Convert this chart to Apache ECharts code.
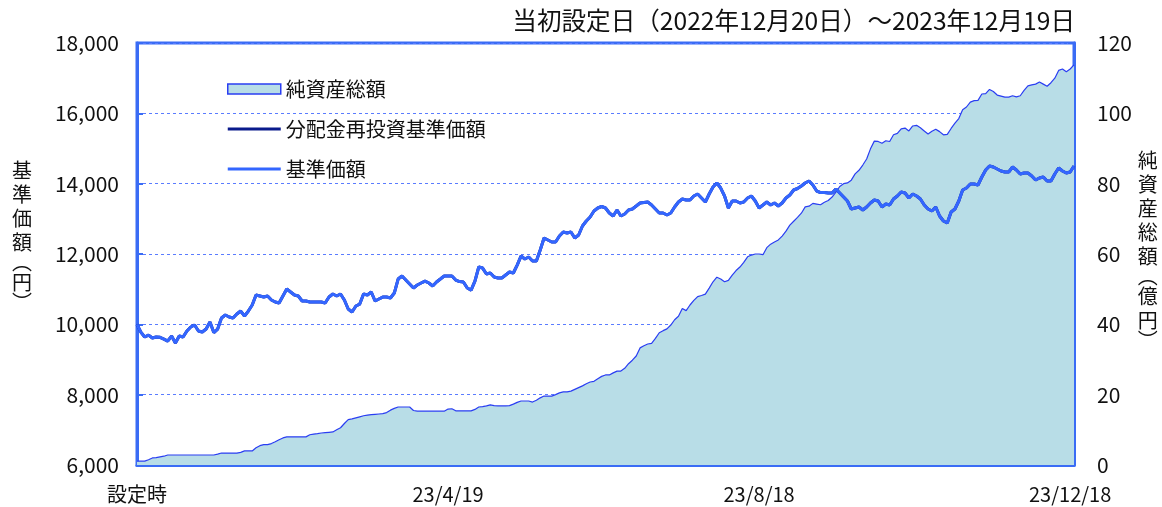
<!DOCTYPE html>
<html>
<head>
<meta charset="utf-8">
<script src="https://cdn.jsdelivr.net/npm/echarts@6/dist/echarts.min.js"></script>
<style>
html,body{margin:0;padding:0;background:#fff;}
#c{width:1162px;height:507px;}
</style>
</head>
<body>
<div id="c"></div>
<script>
// trading-day index 0..244 (2022/12/20 .. 2023/12/19)
const xTickLabels = {0: '設定時', 81: '23/4/19', 162: '23/8/18', 243: '23/12/18'};

// 基準価額 (円)
const nav = [
10000,9780,9640,9695,9610,9640,9630,9580,9525,9667,
9468,9667,9640,9810,9923,9980,9810,9781,9866,10065,
9765,9866,10179,10265,10208,10179,10293,10378,10236,10378,
10550,10833,10805,10776,10805,10691,10634,10606,10805,11004,
10919,10833,10805,10663,10663,10634,10634,10634,10634,10606,
10776,10862,10805,10862,10691,10435,10350,10521,10577,10862,
10833,10919,10663,10720,10776,10776,10748,10890,11288,11374,
11260,11147,11032,11118,11175,11231,11175,11089,11203,11288,
11374,11374,11374,11260,11217,11203,11032,10975,11231,11630,
11600,11431,11459,11345,11317,11317,11402,11487,11459,11686,
11942,11857,11914,11800,11800,12113,12454,12397,12340,12340,
12511,12625,12597,12625,12454,12540,12796,12938,13052,13222,
13308,13350,13308,13165,13080,13250,13080,13137,13250,13279,
13364,13450,13464,13478,13393,13279,13165,13165,13108,13165,
13336,13478,13563,13535,13535,13649,13706,13592,13478,13706,
13905,14018,13876,13649,13308,13507,13507,13450,13478,13592,
13649,13507,13308,13393,13478,13393,13450,13364,13450,13592,
13677,13820,13862,13933,14018,14075,13962,13791,13748,13748,
13734,13734,13848,13734,13620,13507,13279,13308,13336,13250,
13336,13450,13535,13507,13336,13421,13393,13563,13649,13762,
13734,13592,13706,13649,13563,13393,13279,13222,13336,13080,
12938,12881,13194,13279,13507,13820,13876,13990,13990,13962,
14189,14388,14502,14473,14417,14360,14331,14331,14473,14388,
14275,14303,14303,14218,14104,14161,14189,14075,14075,14275,
14445,14360,14303,14331,14502
];

// 分配金再投資基準価額 (円) — no distributions, identical to 基準価額
const navReinvested = nav;

// 純資産総額 (億円)
const aum = [
1.1,1.1,1.1,1.5,2.0,2.1,2.3,2.5,2.85,2.85,
2.85,2.85,2.85,2.85,2.85,2.85,2.85,2.85,2.85,2.85,
2.85,3.1,3.4,3.4,3.4,3.4,3.4,3.6,4.0,4.0,
4.0,4.9,5.5,5.8,5.8,6.1,6.6,7.2,7.7,8.0,
8.0,8.0,8.0,8.0,8.0,8.6,8.8,8.9,9.1,9.2,
9.3,9.4,10.0,10.6,11.8,12.9,13.1,13.4,13.7,14.0,
14.2,14.3,14.4,14.5,14.6,14.9,15.6,16.1,16.5,16.5,
16.5,16.5,15.5,15.3,15.3,15.3,15.3,15.3,15.3,15.3,
15.3,15.9,16.0,15.4,15.4,15.4,15.4,15.4,15.8,16.5,
16.6,16.8,17.1,16.9,16.8,16.8,16.8,16.9,17.3,17.8,
18.2,18.2,18.2,17.9,18.4,19.1,19.6,19.6,19.6,20.0,
20.5,20.8,20.8,21.0,21.5,22.0,22.5,23.1,23.6,23.8,
24.5,25.2,25.6,25.6,26.2,26.7,26.7,27.5,28.8,29.8,
31.0,33.3,33.9,34.4,34.6,36.0,37.6,38.2,38.7,39.8,
41.3,42.3,44.5,43.9,45.5,46.8,47.9,48.2,48.6,50.3,
52.1,53.4,52.9,52.1,52.5,54.0,55.3,56.3,57.6,59.2,
59.7,60.0,60.0,59.8,61.8,62.8,63.4,64.0,65.1,66.5,
68.2,69.3,70.4,71.6,73.4,73.6,74.4,74.2,74.0,74.7,
75.2,76.2,77.6,79.2,80.0,80.2,81.0,82.8,83.8,85.3,
87.0,89.9,92.1,92.0,91.5,92.2,92.0,93.9,94.3,95.6,
95.8,95.0,96.4,96.6,95.9,95.0,94.1,94.9,95.5,94.8,
93.9,94.0,95.7,97.2,98.5,101.0,101.8,103.2,103.6,103.7,
105.5,105.6,106.8,106.2,105.2,104.9,104.6,104.6,105.0,104.7,
105.0,106.5,107.8,108.1,108.3,108.9,108.3,107.7,108.7,110.0,
112.2,112.6,111.8,112.6,113.8
];

const titleText = '当初設定日（2022年12月20日）～2023年12月19日';
const leftName = ['基','準','価','額','︵','円','︶'];
const rightName = ['純','資','産','総','額','︵','億','円','︶'];

const FONT = '"Noto Sans CJK JP", "Noto Sans", sans-serif';
const BLUE = '#3366ff';
const AXIS = '#3a6cf5';
const FILL = '#b8dde7';
const AUMLINE = '#2a3ef2';
const NAVY = '#0a1a8c';
const LINE_ICON = 'path://M0,0L53,0L53,3L0,3Z';

function verticalName(chars) {
  return chars.map(ch => ('︵︶'.indexOf(ch) >= 0 ? '{p|' : '{c|') + ch + '}').join('\n');
}
const nameRich = {
  c: {fontSize: 20, lineHeight: 24, color: '#111', fontFamily: FONT},
  p: {fontSize: 20, lineHeight: 16, color: '#111', fontFamily: FONT}
};

const chart = echarts.init(document.getElementById('c'), null, {renderer: 'canvas'});
chart.setOption({
  animation: false,
  backgroundColor: '#ffffff',
  textStyle: {fontFamily: FONT},
  grid: {left: 137, right: 88, top: 43, bottom: 42, outerBoundsMode: 'none', containLabel: false,
    show: true, borderColor: AXIS, borderWidth: 3, backgroundColor: 'transparent'},
  graphic: [
    {type: 'text', right: 87, top: 8, style: {text: titleText, font: '24.6px ' + FONT, fill: '#111', textAlign: 'right'}}
  ],
  legend: {
    orient: 'vertical', left: 227, top: 79, padding: 0, itemGap: 20,
    itemWidth: 53, itemHeight: 10,
    textStyle: {fontFamily: FONT, fontSize: 20, color: '#111', lineHeight: 20},
    data: [
      {name: '純資産総額', icon: 'rect', itemStyle: {color: FILL, borderColor: AUMLINE, borderWidth: 1.5}},
      {name: '分配金再投資基準価額', icon: LINE_ICON, itemStyle: {color: NAVY, borderWidth: 0}},
      {name: '基準価額', icon: LINE_ICON, itemStyle: {color: BLUE, borderWidth: 0}}
    ]
  },
  xAxis: {
    type: 'value', min: 0, max: 244, interval: 81,
    axisLine: {show: true, lineStyle: {color: AXIS, width: 3}},
    axisTick: {show: true, inside: true, length: 6, lineStyle: {color: AXIS, width: 2}},
    splitLine: {show: false},
    axisLabel: {
      margin: 19, fontSize: 20, color: '#111', fontFamily: FONT,
      formatter: v => xTickLabels[v] !== undefined ? xTickLabels[v] : '',
      showMaxLabel: false
    }
  },
  yAxis: [
    {
      type: 'value', min: 6000, max: 18000, interval: 2000, position: 'left',
      name: verticalName(leftName), nameLocation: 'middle', nameRotate: 0, nameGap: 105,
      nameTextStyle: {rich: nameRich, padding: [0, 0, 40, 0]},
      axisLine: {show: true, lineStyle: {color: AXIS, width: 3}},
      axisTick: {show: true, inside: true, length: 6, lineStyle: {color: AXIS, width: 2}},
      axisLabel: {margin: 18, fontSize: 21, color: '#111', fontFamily: FONT,
        formatter: v => v.toLocaleString('en-US')},
      splitLine: {show: true, lineStyle: {color: '#5a7cff', type: [3, 3], width: 1}}
    },
    {
      type: 'value', min: 0, max: 120, interval: 20, position: 'right',
      name: verticalName(rightName), nameLocation: 'middle', nameRotate: 0, nameGap: 62,
      nameTextStyle: {rich: nameRich, padding: [0, 0, 12, 0]},
      axisLine: {show: true, lineStyle: {color: AXIS, width: 3}},
      axisTick: {show: true, inside: true, length: 6, lineStyle: {color: AXIS, width: 2}},
      axisLabel: {margin: 23, fontSize: 21, color: '#111', fontFamily: FONT},
      splitLine: {show: false}
    }
  ],
  series: [
    {
      name: '純資産総額', type: 'line', yAxisIndex: 1, symbol: 'none', z: 1,
      data: aum.map((v, i) => [i, v]),
      lineStyle: {color: AUMLINE, width: 1.2},
      itemStyle: {color: FILL, borderColor: AUMLINE},
      areaStyle: {color: FILL, opacity: 1}
    },
    {
      name: '分配金再投資基準価額', type: 'line', yAxisIndex: 0, symbol: 'none', z: 2,
      data: navReinvested.map((v, i) => [i, v]),
      lineStyle: {color: NAVY, width: 3},
      itemStyle: {color: NAVY}
    },
    {
      name: '基準価額', type: 'line', yAxisIndex: 0, symbol: 'none', z: 3,
      data: nav.map((v, i) => [i, v]),
      lineStyle: {color: BLUE, width: 3},
      itemStyle: {color: BLUE}
    }
  ]
});
</script>
</body>
</html>
